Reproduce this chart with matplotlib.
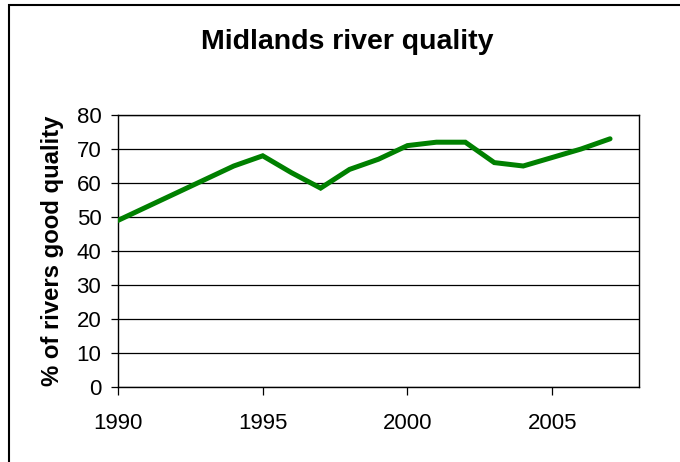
import matplotlib
matplotlib.use("Agg")
import matplotlib.pyplot as plt
from matplotlib.patches import Rectangle

years = [1990, 1991, 1992, 1993, 1994, 1995, 1996, 1997, 1998, 1999,
         2000, 2001, 2002, 2003, 2004, 2005, 2006, 2007]
good_quality_pct = [49, 53, 57, 61, 65, 68, 63, 58.5, 64, 67,
                    71, 72, 72, 66, 65, 67.5, 70, 73]
x_ticks = [1990, 1995, 2000, 2005]
y_ticks = [0, 10, 20, 30, 40, 50, 60, 70, 80]

plt.rcParams['font.family'] = ['Liberation Sans', 'DejaVu Sans']

W, H = 680, 462
fig = plt.figure(figsize=(W / 100, H / 100), dpi=100)

# outer chart frame
fig.patches.append(Rectangle((9 / W, -0.5), 2, 1.5 - 5 / H, transform=fig.transFigure,
                             fill=False, edgecolor='black', linewidth=1.5))

ax = fig.add_axes([118 / W, 1 - 387 / H, (639 - 118) / W, (387 - 115) / H])
ax.plot(years, good_quality_pct, color='#008000', linewidth=3.6,
        solid_joinstyle='miter', solid_capstyle='round', zorder=3)

ax.set_xlim(1990, 2008)
ax.set_ylim(0, 80)
ax.set_xticks(x_ticks)
ax.set_yticks(y_ticks)
ax.yaxis.grid(True, color='black', linewidth=0.9)
ax.set_axisbelow(True)
for s in ax.spines.values():
    s.set_color('black')
    s.set_linewidth(1.0)

ax.tick_params(axis='y', direction='out', length=5, width=0.9, pad=7, labelsize=16)
ax.tick_params(axis='x', direction='out', length=6, width=0.9, pad=13, labelsize=16)

ax.set_ylabel('% of rivers good quality', fontsize=17.2, fontweight='bold', labelpad=9)
fig.text(347 / W, 1 - 42 / H, 'Midlands river quality', ha='center', va='center',
         fontsize=20.5, fontweight='bold')

fig.savefig('out.png', dpi=100)
